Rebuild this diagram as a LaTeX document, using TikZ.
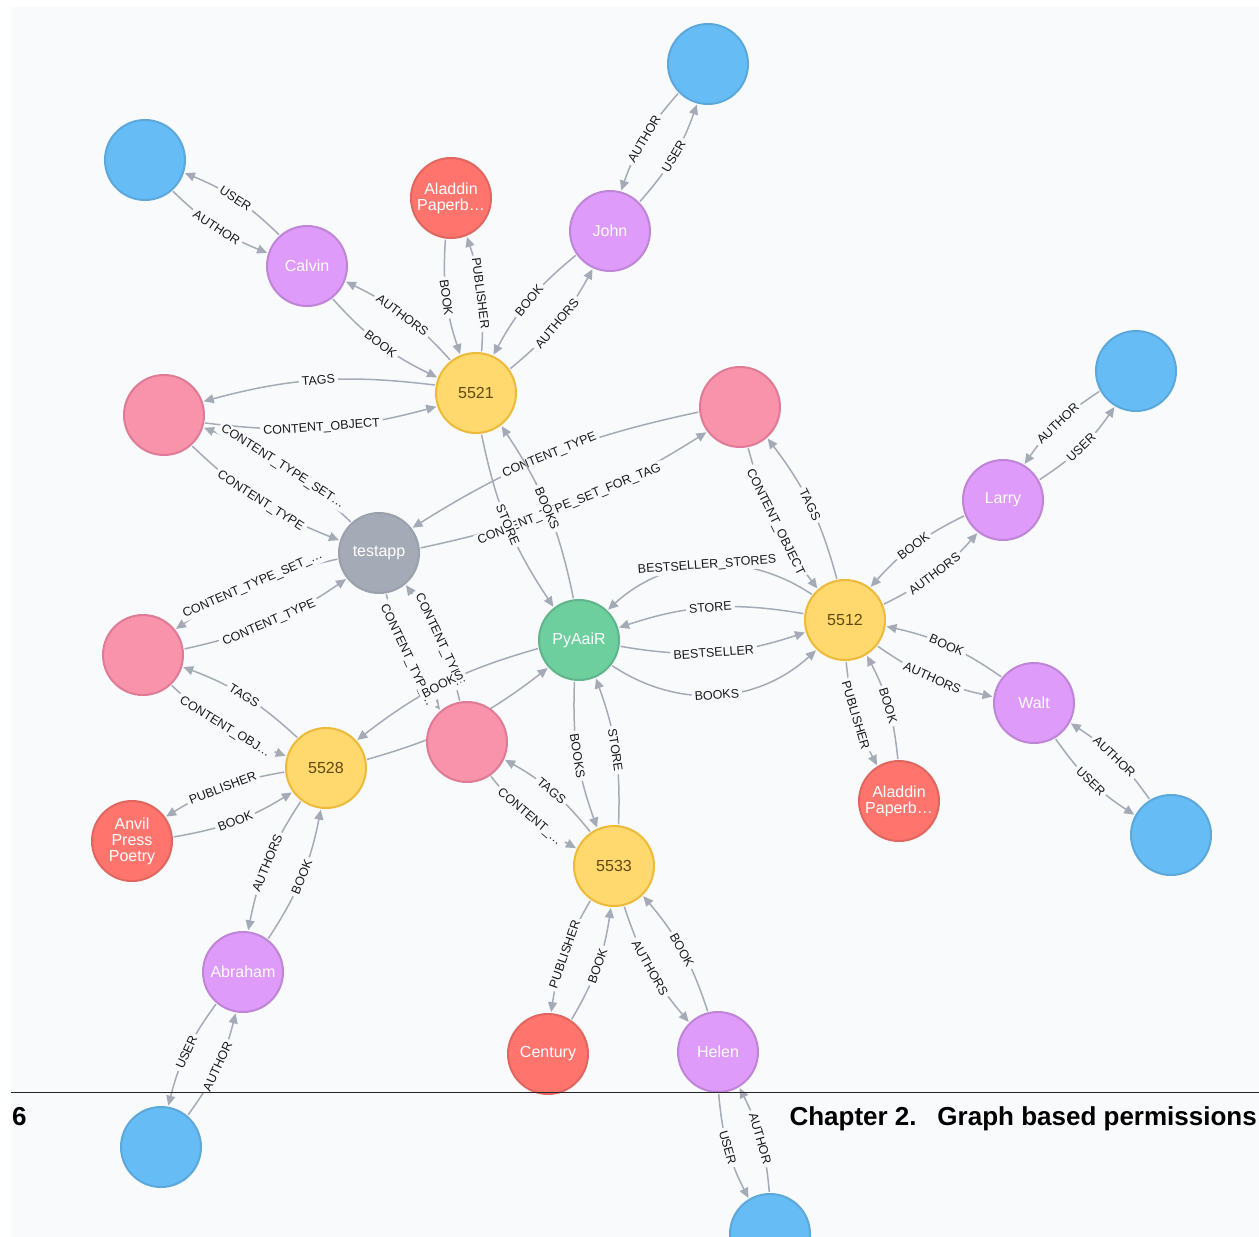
\documentclass[tikz,border=0pt]{standalone}
\usepackage{fontspec}
\setmainfont{Liberation Sans}
\usetikzlibrary{calc,arrows.meta}
\definecolor{bg}{HTML}{F9FAFC}
\definecolor{cblue}{HTML}{66BCF5}
\definecolor{cblueb}{HTML}{5CA8DB}
\definecolor{cpurp}{HTML}{DE9BF9}
\definecolor{cpurpb}{HTML}{BF85D6}
\definecolor{cred}{HTML}{FF756E}
\definecolor{credb}{HTML}{E06760}
\definecolor{cpink}{HTML}{F992AB}
\definecolor{cpinkb}{HTML}{E07B95}
\definecolor{cyel}{HTML}{FFD86E}
\definecolor{cyelb}{HTML}{EDBA39}
\definecolor{cyelt}{HTML}{604A0E}
\definecolor{cgray}{HTML}{A5ABB6}
\definecolor{cgrayb}{HTML}{9AA1AC}
\definecolor{cgreen}{HTML}{6DCE9E}
\definecolor{cgreenb}{HTML}{60B58B}
\definecolor{cedge}{HTML}{A5ABB6}
\definecolor{clbl}{HTML}{1A1A1A}
\pgfdeclarelayer{bgl}
\pgfdeclarelayer{edges}
\pgfsetlayers{bgl,edges,main}
\newcommand{\lblfont}{\fontsize{12.5}{12.5}\selectfont}
\newcommand{\ndfont}{\fontsize{16}{16}\selectfont}
\tikzset{
  nd/.style={circle, minimum size=80pt, inner sep=0pt, line width=2pt, align=center, font=\ndfont, text=white},
  usernode/.style={nd, fill=cblue, draw=cblueb},
  persnode/.style={nd, fill=cpurp, draw=cpurpb},
  pubnode/.style={nd, fill=cred, draw=credb},
  tagnode/.style={nd, fill=cpink, draw=cpinkb},
  booknode/.style={nd, fill=cyel, draw=cyelb, text=cyelt},
  appnode/.style={nd, fill=cgray, draw=cgrayb},
  storenode/.style={nd, fill=cgreen, draw=cgreenb},
  rel/.style={draw=cedge, line width=1.5pt, -{Triangle[length=10pt,width=9pt]}},
  lbl/.style={font=\lblfont, text=clbl, fill=bg, inner xsep=3pt, inner ysep=1.5pt, sloped},
  hdr/.style={font=\bfseries\fontsize{26}{26}\selectfont, text=black, inner sep=0pt}
}
\newcommand{\myrel}[5][15]{\draw[rel] ($(#2)!42pt!-#1:(#3)$) to[bend right=#4] node[lbl]{#5} ($(#3)!42pt!#1:(#2)$);}
\begin{document}
\begin{tikzpicture}[x=1pt,y=-1pt]
\useasboundingbox (0,0) rectangle (1259,1237);
\clip (0,0) rectangle (1259,1237);
\begin{pgfonlayer}{bgl}
\fill[white] (0,0) rectangle (1259,1237);
\fill[bg] (11,7) rectangle (1259,1237);
\end{pgfonlayer}
% nodes
\node[usernode] (b1) at (145,160) {};
\node[usernode] (b2) at (708,64) {};
\node[usernode] (b3) at (1136,371) {};
\node[usernode] (b4) at (1171,835) {};
\node[usernode] (b5) at (161,1147) {};
\node[usernode] (b6) at (770,1234) {};
\node[persnode] (calvin) at (307,266) {Calvin};
\node[persnode] (john) at (610,231) {John};
\node[persnode] (larry) at (1003,500) {Larry};
\node[persnode] (walt) at (1034,703) {Walt};
\node[persnode] (abraham) at (243,972) {Abraham};
\node[persnode] (helen) at (718,1052) {Helen};
\node[pubnode] (ala1) at (451,198) {Aladdin\\Paperb…};
\node[pubnode] (ala2) at (899,801) {Aladdin\\Paperb…};
\node[pubnode] (anvil) at (132,841) {Anvil\\Press\\Poetry};
\node[pubnode] (century) at (548,1054) {Century};
\node[tagnode] (p1) at (164,415) {};
\node[tagnode] (p2) at (740,407) {};
\node[tagnode] (p3) at (143,655) {};
\node[tagnode] (p4) at (467,742) {};
\node[appnode] (app) at (379,553) {testapp};
\node[storenode] (py) at (579,640) {PyAaiR};
\node[booknode] (n5521) at (476,393) {5521};
\node[booknode] (n5512) at (845,620) {5512};
\node[booknode] (n5528) at (326,768) {5528};
\node[booknode] (n5533) at (614,866) {5533};
% relationships
\begin{pgfonlayer}{edges}
\myrel{calvin}{b1}{11}{USER}
\myrel{b1}{calvin}{11}{AUTHOR}
\myrel{n5521}{calvin}{11}{AUTHORS}
\myrel{calvin}{n5521}{11}{BOOK}
\myrel{ala1}{n5521}{11}{BOOK}
\myrel{n5521}{ala1}{11}{PUBLISHER}
\myrel{john}{n5521}{11}{BOOK}
\myrel{n5521}{john}{11}{AUTHORS}
\myrel{b2}{john}{11}{AUTHOR}
\myrel{john}{b2}{11}{USER}
\myrel{n5521}{p1}{11}{TAGS}
\myrel{p1}{n5521}{11}{CONTENT\_OBJECT}
\myrel{app}{p1}{11}{CONTENT\_TYPE\_SET…}
\myrel{p1}{app}{11}{CONTENT\_TYPE}
\myrel{app}{p3}{11}{CONTENT\_TYPE\_SET\_…}
\myrel{p3}{app}{11}{CONTENT\_TYPE}
\myrel{p2}{app}{10}{CONTENT\_TYPE}
\myrel{app}{p2}{10}{CONTENT\_TYPE\_SET\_FOR\_TAG}
\myrel{app}{p4}{11}{CONTENT\_TYP\_…}
\myrel{p4}{app}{11}{CONTENT\_TYPE}
\myrel{py}{n5528}{11}{BOOKS}
\draw[rel] ($(n5528)!42pt!-15:(py)$) to[bend right=11] ($(py)!42pt!15:(n5528)$);
\myrel{n5533}{p4}{11}{TAGS}
\myrel{p4}{n5533}{11}{CONTENT\_…}
\myrel{py}{n5533}{11}{BOOKS}
\myrel{n5533}{py}{11}{STORE}
\myrel{n5533}{century}{11}{PUBLISHER}
\myrel{century}{n5533}{11}{BOOK}
\myrel{n5533}{helen}{11}{AUTHORS}
\myrel{helen}{n5533}{11}{BOOK}
\myrel{helen}{b6}{11}{USER}
\myrel{b6}{helen}{11}{AUTHOR}
\myrel{n5528}{p3}{11}{TAGS}
\myrel{p3}{n5528}{11}{CONTENT\_OBJ…}
\myrel{n5528}{anvil}{11}{PUBLISHER}
\myrel{anvil}{n5528}{11}{BOOK}
\myrel{n5528}{abraham}{11}{AUTHORS}
\myrel{abraham}{n5528}{11}{BOOK}
\myrel{abraham}{b5}{11}{USER}
\myrel{b5}{abraham}{11}{AUTHOR}
\myrel{n5521}{py}{11}{STORE}
\myrel{py}{n5521}{11}{BOOKS}
\myrel[42]{n5512}{py}{38}{BESTSELLER\_STORES}
\myrel[13]{n5512}{py}{14}{STORE}
\myrel[13]{py}{n5512}{14}{BESTSELLER}
\myrel[42]{py}{n5512}{38}{BOOKS}
\myrel{p2}{n5512}{11}{CONTENT\_OBJECT}
\myrel{n5512}{p2}{11}{TAGS}
\myrel{larry}{n5512}{11}{BOOK}
\myrel{n5512}{larry}{11}{AUTHORS}
\myrel{b3}{larry}{11}{AUTHOR}
\myrel{larry}{b3}{11}{USER}
\myrel{walt}{n5512}{11}{BOOK}
\myrel{n5512}{walt}{11}{AUTHORS}
\myrel{walt}{b4}{11}{USER}
\myrel{b4}{walt}{11}{AUTHOR}
\myrel{n5512}{ala2}{11}{PUBLISHER}
\myrel{ala2}{n5512}{11}{BOOK}
\end{pgfonlayer}
% page header
\draw[line width=1pt, black!85] (11,1092) -- (1259,1092);
\node[hdr, anchor=base west] (pgnum) at (12,1125) {6};
\node[hdr, anchor=base east] (chap) at (1257,1125) {Chapter 2.\hspace{0.8em}Graph based permissions};
\end{tikzpicture}
\end{document}
